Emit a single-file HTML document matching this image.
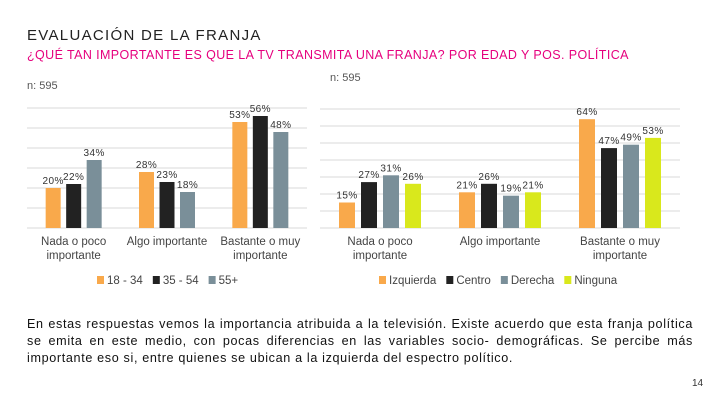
<!DOCTYPE html>
<html><head><meta charset="utf-8"><style>
body{margin:0;width:720px;height:405px;background:#fff;font-family:"Liberation Sans",sans-serif;position:relative;overflow:hidden}
.t{position:absolute;white-space:nowrap}
</style></head><body>
<div class="t" style="left:27px;top:27px;font-size:15px;color:#222;letter-spacing:1.3px">EVALUACIÓN DE LA FRANJA</div>
<div class="t" style="left:27px;top:48px;font-size:12.5px;color:#E6007E;letter-spacing:0.4px">¿QUÉ TAN IMPORTANTE ES QUE LA TV TRANSMITA UNA FRANJA? POR EDAD Y POS. POLÍTICA</div>
<div class="t" style="left:27px;top:80px;font-size:11px;color:#555">n: 595</div>
<div class="t" style="left:330px;top:72px;font-size:11px;color:#555">n: 595</div>
<svg id="c" width="720" height="300" style="position:absolute;left:0;top:0"></svg>
<div class="t" style="left:27px;top:316px;width:666px;white-space:normal;font-size:12.6px;line-height:17px;color:#111;text-align:justify;letter-spacing:0.65px">En estas respuestas vemos la importancia atribuida a la televisión. Existe acuerdo que esta franja política se emita en este medio, con pocas diferencias en las variables socio- demográficas. Se percibe más importante eso si, entre quienes se ubican a la izquierda del espectro político.</div>
<div class="t" style="left:692px;top:378px;font-size:10px;color:#333">14</div>
<script>
const categories=["Nada o poco|importante","Algo importante","Bastante o muy|importante"];
const ageSeries=["18 - 34","35 - 54","55+"];
const ageValues=[[20,28,53],[22,23,56],[34,18,48]];
const polSeries=["Izquierda","Centro","Derecha","Ninguna"];
const polValues=[[15,21,64],[27,26,47],[31,19,49],[26,21,53]];
const ageColors=["#F9A94B","#222222","#7A8F99"];
const polColors=["#F9A94B","#222222","#7A8F99","#D9E81C"];
const svg=document.getElementById('c');const NS="http://www.w3.org/2000/svg";
function mk(t,a,txt){const e=document.createElementNS(NS,t);for(const k in a)e.setAttribute(k,a[k]);if(txt!==undefined)e.textContent=txt;svg.appendChild(e);return e;}
function chart(o){
 const y=v=>o.base-v*o.pxPer;
 for(let g=0;g<=o.maxV;g+=10){const l=mk('line',{x1:o.x0,x2:o.x1,y1:y(g),y2:y(g),stroke:'#d9d9d9','stroke-width':1});
 }
 const gw=(o.x1-o.x0)/categories.length;
 categories.forEach((c,ci)=>{
  const n=o.vals.length;const start=o.x0+gw*ci+(gw-(n*o.step-(o.step-o.bw)))/2;
  o.vals.forEach((s,si)=>{const v=s[ci];const x=start+si*o.step;
   const r=mk('rect',{x:x,y:y(v),width:o.bw,height:v*o.pxPer,fill:o.colors[si]});
   
   const t=mk('text',{x:x+o.bw/2,y:y(v)-4,'text-anchor':'middle','font-size':10,fill:'#333','letter-spacing':0.4},v+'%');
   });
  c.split('|').forEach((ln,li)=>{const t=mk('text',{x:o.x0+gw*ci+gw/2,y:o.base+17+li*14,'text-anchor':'middle','font-size':11.5,fill:'#444'},ln);
   });
 });
 let lx=o.legX;
 o.series.forEach((s,i)=>{const r=mk('rect',{x:lx,y:o.legY-8,width:7,height:8,fill:o.colors[i]});
  
  const t=mk('text',{x:lx+10,y:o.legY,'font-size':11.5,fill:'#444'},s);
  
  lx+=10+t.getComputedTextLength()+10;});
}
chart({id:'age',vals:ageValues,series:ageSeries,colors:ageColors,x0:27,x1:307,base:228,pxPer:2,maxV:60,bw:15,step:20.5,legX:97,legY:284});
chart({id:'pol',vals:polValues,series:polSeries,colors:polColors,x0:320,x1:680,base:228,pxPer:1.7,maxV:70,bw:16,step:22,legX:379,legY:284});
</script>
</body></html>
